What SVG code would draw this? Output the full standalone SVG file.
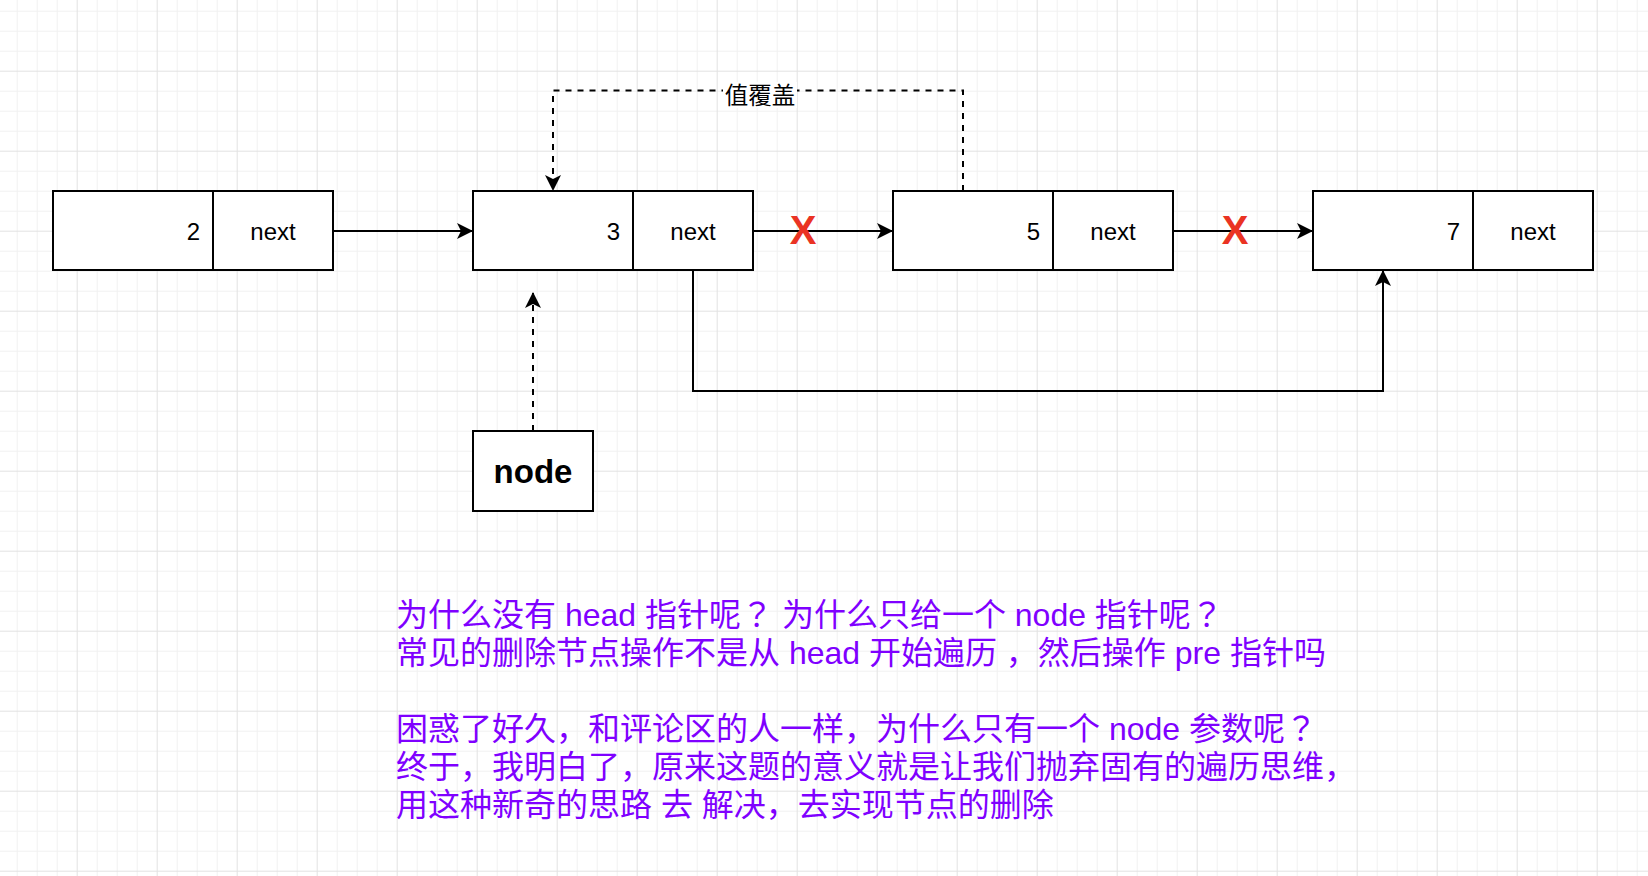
<svg xmlns="http://www.w3.org/2000/svg" width="1648" height="876" viewBox="0 0 1648 876">
<style>
.box{fill:#ffffff;stroke:#000000;stroke-width:2}
.div{stroke:#000000;stroke-width:2}
.lbl{font-family:"Liberation Sans",Arial,sans-serif;font-size:24px;fill:#000000}
.num{text-anchor:end}
.nxt{text-anchor:middle}
.edge{fill:none;stroke:#000000;stroke-width:2}
.dash{stroke-dasharray:6 6}
.cross{font-family:"Liberation Sans",Arial,sans-serif;font-weight:bold;font-size:40px;fill:#EA3323;text-anchor:middle}
.note{font-family:"Liberation Sans","Noto Sans CJK SC",sans-serif;font-size:32px;fill:#7F00FF}
.fw{font-family:"Noto Sans CJK TC",sans-serif}
.cjk{font-family:"Noto Sans CJK SC","Liberation Sans",sans-serif;font-size:23.5px;fill:#000000;text-anchor:middle}
</style>
<defs>
<pattern id="grid" patternUnits="userSpaceOnUse" x="16.7" y="10.7" width="80" height="80">
<rect x="0" y="0" width="80" height="80" fill="#ffffff"/>
<rect x="0" y="0" width="1" height="80" fill="#f1f1f1"/>
<rect x="20" y="0" width="1" height="80" fill="#f1f1f1"/>
<rect x="40" y="0" width="1" height="80" fill="#f1f1f1"/>
<rect x="0" y="0" width="80" height="1" fill="#f1f1f1"/>
<rect x="0" y="20" width="80" height="1" fill="#f1f1f1"/>
<rect x="0" y="40" width="80" height="1" fill="#f1f1f1"/>
<rect x="60" y="0" width="1" height="80" fill="#e2e2e2"/>
<rect x="0" y="60" width="80" height="1" fill="#e2e2e2"/>
</pattern>
<marker id="arr" markerUnits="userSpaceOnUse" markerWidth="18" markerHeight="18" refX="16" refY="8" orient="auto" viewBox="0 0 18 16">
<path d="M0,0 L16,8 L0,16 L4,8 Z" fill="#000000" stroke="none"/>
</marker>
</defs>
<rect x="0" y="0" width="1648" height="876" fill="url(#grid)"/>

<g id="connectors">
<line class="edge" x1="333" y1="231" x2="473" y2="231" marker-end="url(#arr)"/>
<line class="edge" x1="753" y1="231" x2="893" y2="231" marker-end="url(#arr)"/>
<line class="edge" x1="1173" y1="231" x2="1313" y2="231" marker-end="url(#arr)"/>
<path class="edge dash" d="M963,191 V90.5 H553 V191" marker-end="url(#arr)"/>
<rect x="723" y="82" width="74" height="26" fill="#ffffff"/>
<text class="cjk" x="760" y="103.5">值覆盖</text>
<path class="edge dash" d="M533,431 V292" marker-end="url(#arr)"/>
<path class="edge" d="M693,270 V391 H1383 V270" marker-end="url(#arr)"/>
<text class="cross" x="803" y="243.5">X</text>
<text class="cross" x="1235" y="243.5">X</text>
</g>

<g id="node2">
<rect class="box" x="53" y="191" width="280" height="79"/>
<line class="div" x1="213" y1="191" x2="213" y2="270"/>
<text class="lbl num" x="200" y="240">2</text>
<text class="lbl nxt" x="273" y="240">next</text>
</g>

<g id="node3">
<rect class="box" x="473" y="191" width="280" height="79"/>
<line class="div" x1="633" y1="191" x2="633" y2="270"/>
<text class="lbl num" x="620" y="240">3</text>
<text class="lbl nxt" x="693" y="240">next</text>
</g>

<g id="node5">
<rect class="box" x="893" y="191" width="280" height="79"/>
<line class="div" x1="1053" y1="191" x2="1053" y2="270"/>
<text class="lbl num" x="1040" y="240">5</text>
<text class="lbl nxt" x="1113" y="240">next</text>
</g>

<g id="node7">
<rect class="box" x="1313" y="191" width="280" height="79"/>
<line class="div" x1="1473" y1="191" x2="1473" y2="270"/>
<text class="lbl num" x="1460" y="240">7</text>
<text class="lbl nxt" x="1533" y="240">next</text>
</g>

<g id="nodeptr">
<rect class="box" x="473" y="431" width="120" height="80"/>
<text x="533" y="483" font-family="'Liberation Sans',Arial,sans-serif" font-size="33" font-weight="bold" text-anchor="middle" fill="#000000">node</text>
</g>

<g id="note">
<text class="note" x="396" y="626" xml:space="preserve">为什么没有 head 指针呢<tspan class="fw">？</tspan> 为什么只给一个 node 指针呢<tspan class="fw">？</tspan></text>
<text class="note" x="396" y="664" xml:space="preserve">常见的删除节点操作不是从 head 开始遍历 ，然后操作 pre 指针吗</text>
<text class="note" x="396" y="740" xml:space="preserve">困惑了好久，和评论区的人一样，为什么只有一个 node 参数呢<tspan class="fw">？</tspan></text>
<text class="note" x="396" y="778" xml:space="preserve">终于，我明白了，原来这题的意义就是让我们抛弃固有的遍历思维，</text>
<text class="note" x="396" y="816" xml:space="preserve">用这种新奇的思路 去 解决，去实现节点的删除</text>
</g>
</svg>
